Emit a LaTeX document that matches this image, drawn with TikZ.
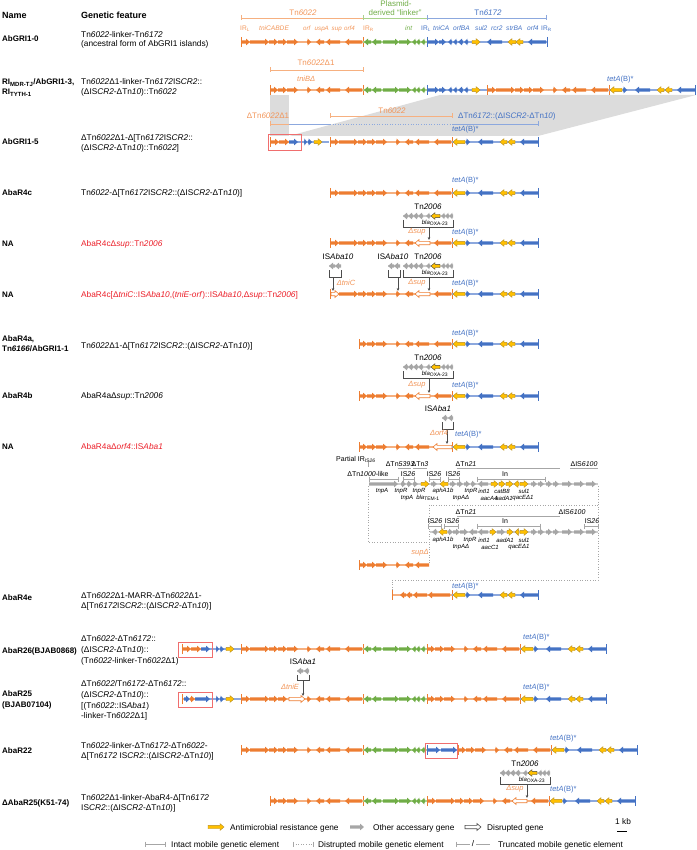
\documentclass[tikz,border=0pt]{standalone}
\usepackage{fontspec}
\setmainfont{Liberation Sans}
\usetikzlibrary{arrows.meta}
\definecolor{cO}{RGB}{237,125,49}
\definecolor{cOl}{RGB}{246,176,128}
\definecolor{cOt}{RGB}{242,150,90}
\definecolor{cG}{RGB}{112,173,71}
\definecolor{cGl}{RGB}{170,210,140}
\definecolor{cB}{RGB}{68,114,196}
\definecolor{cBl}{RGB}{140,168,222}
\definecolor{cY}{RGB}{255,192,0}
\definecolor{cYd}{RGB}{180,140,40}
\definecolor{cGr}{RGB}{166,166,166}
\definecolor{cGrl}{RGB}{205,205,205}
\definecolor{cRed}{RGB}{235,30,40}
\definecolor{cBox}{RGB}{240,110,110}
\definecolor{cSh}{RGB}{220,220,220}
\tikzset{
 gO/.style={fill=cO}, gG/.style={fill=cG}, gB/.style={fill=cB},
 gY/.style={fill=cY,draw=cYd,line width=0.4},
 gYb/.style={fill=cY,draw=black!75,line width=0.4},
 gR/.style={fill=cGr},
 gD/.style={fill=white,draw=cO,line width=0.6},
 bbO/.style={draw=cOl,line width=1.3}, bbG/.style={draw=cGl,line width=1.3},
 bbB/.style={draw=cBl,line width=1.3}, bbR/.style={draw=cGrl,line width=1.3},
 txt/.style={anchor=base west,inner sep=0,font=\fontsize{8.3}{9.6}\selectfont},
 nm/.style={anchor=base west,inner sep=0,font=\bfseries\fontsize{8}{9.6}\selectfont},
 hd/.style={anchor=base west,inner sep=0,font=\bfseries\fontsize{9}{10}\selectfont},
 el/.style={inner sep=0,font=\fontsize{8}{9}\selectfont},
 gl/.style={inner sep=0,font=\itshape\fontsize{6}{6.5}\selectfont},
 dl/.style={inner sep=0,font=\itshape\fontsize{7.5}{8}\selectfont,text=cOt},
 tl/.style={anchor=base west,inner sep=0,font=\fontsize{7.5}{8}\selectfont,text=cB},
 dt/.style={draw=cGr,line width=0.6,dotted},
 bk/.style={draw=black!70,line width=0.5},
}
\newcommand\gn[4]{%
 \pgfmathsetmacro\gd{(#2)-(#1)}%
 \pgfmathsetmacro\ghl{ifthenelse(abs(\gd)<4.5,0.85*(\gd),ifthenelse(\gd>0,4,-4))}%
 \path[#4] ({#1},{#3-1.7}) -- ({#2-(\ghl)},{#3-1.7}) -- ({#2-(\ghl)},{#3-3.4}) -- ({#2},{#3}) -- ({#2-(\ghl)},{#3+3.4}) -- ({#2-(\ghl)},{#3+1.7}) -- ({#1},{#3+1.7}) -- cycle;}
\newcommand\genes[4]{\foreach \s/\e in {#4}{\gn{#1+\s}{#1+\e}{#2}{#3}}}
\newcommand\bb[4]{\draw[#4] ({#1},{#3}) -- ({#2},{#3});}
\newcommand\irt[3]{\draw[#3,line width=0.7] ({#1},{#2-5}) -- ({#1},{#2+5});}
\newcommand\brk[4]{\draw[#4,line width=0.6] ({#1},{#3}) -- ({#2},{#3}) ({#1},{#3-2.5}) -- ({#1},{#3+2.5}) ({#2},{#3-2.5}) -- ({#2},{#3+2.5});}
\newcommand\TnA[2]{\bb{#1}{#1+122}{#2}{bbO}\genes{#1}{#2}{gO}{1/9,9/28,28/37,37/46,46/57,66/70,83/75,99/85,121/104}\irt{#1}{#2}{cO}\irt{#1+122}{#2}{cO}}
\newcommand\TnAsup[2]{\bb{#1}{#1+122}{#2}{bbO}\genes{#1}{#2}{gO}{1/9,9/28,28/37,37/46,46/57,66/70,83/75,121/104}\gn{#1+100}{#1+85}{#2}{gD}\irt{#1}{#2}{cO}\irt{#1+122}{#2}{cO}}
\newcommand\TnD[2]{\bb{#1}{#1+93}{#2}{bbO}\genes{#1}{#2}{gO}{1/8,8/17,17/28,37/41,54/46,70/56,92/75}\irt{#1}{#2}{cO}\irt{#1+93}{#2}{cO}}
\newcommand\TnDsup[2]{\bb{#1}{#1+93}{#2}{bbO}\genes{#1}{#2}{gO}{1/8,8/17,17/28,37/41,54/46,92/75}\gn{#1+71}{#1+56}{#2}{gD}\irt{#1}{#2}{cO}\irt{#1+93}{#2}{cO}}
\newcommand\TnDorf[2]{\bb{#1}{#1+93}{#2}{bbO}\genes{#1}{#2}{gO}{1/8,8/17,17/28,37/41,54/46,70/56}\gn{#1+93}{#1+74}{#2}{gD}\irt{#1}{#2}{cO}\irt{#1+93}{#2}{cO}}
\newcommand\Lnk[2]{\bb{#1}{#1+64}{#2}{bbG}\genes{#1}{#2}{gG}{8/1,18/9,20/36,36/48,53/49,57/53,62/58}}
\newcommand\TnB[2]{\bb{#1}{#1+120}{#2}{bbB}\genes{#1}{#2}{gB}{1/12,12/19,25/21,30/26,36/31,41/37,75/60,119/101}\genes{#1}{#2}{gY}{45/53,89/81,96/89}\irt{#1}{#2}{cB}\irt{#1+120}{#2}{cB}}
\newcommand\Tail[2]{\bb{#1}{#1+86}{#2}{bbB}\genes{#1}{#2}{gB}{14/18,41/26,86/68}\genes{#1}{#2}{gY}{13/1,55/48,63/56}\irt{#1+86}{#2}{cB}}
\newcommand\FragF[2]{\bb{#1}{#1+19}{#2}{bbO}\bb{#1+19}{#1+59}{#2}{bbB}\genes{#1}{#2}{gO}{1/9,9/19}\genes{#1}{#2}{gB}{19/28,34/37,38/42}\genes{#1}{#2}{gY}{44/52}\irt{#1}{#2}{cO}}
\newcommand\TnTwo[4]{\bb{#1}{#1+50}{#2}{bbR}%
 \genes{#1}{#2}{gR}{5/0,10/5,15/10,20/15,27/23,42/38,46/42,50/46}\genes{#1}{#2}{gYb}{37/28}%
 \node[el] at (#1+25,#2-9) {Tn\textit{2006}};%
 \draw[bk] (#1,#2+4) -- (#1,#2+11) -- (#1+50,#2+11) -- (#1+50,#2+4);%
 \node[gl] at (#1+32,#2+7) {bla\textsubscript{\upshape OXA-23}};%
 \draw[bk,-{Stealth[length=3pt,width=2.6pt]}] (#4,#2+11) -- (#4,#3-3);}
\begin{document}
\begin{tikzpicture}[x=1pt,y=-1pt]
\useasboundingbox (0,0) rectangle (696,850);
% shading
\fill[cSh] (270,95) -- (289,95) -- (289,136) -- (270,136) -- cycle;
\fill[cSh] (440,95) -- (696,95) -- (538,136) -- (289,136) -- cycle;
% header
\node[hd] at (2,19) {Name};
\node[hd] at (81,19) {Genetic feature};
% ---------- Row 1
\node[nm] at (2,42) {AbGRI1-0};
\node[txt] at (81,38) {Tn\textit{6022}-linker-Tn\textit{6172}};
\node[txt] at (81,47) {(ancestral form of AbGRI1 islands)};
\node[el,text=cOt] at (303,13) {Tn\textit{6022}};
\brk{241}{363}{18}{cOl}
\node[el,text=cG] at (396,4) {Plasmid-};
\node[el,text=cG] at (395,13) {derived “linker”};
\brk{363}{427}{18}{cGl}
\node[el,text=cB] at (488,13) {Tn\textit{6172}};
\brk{427}{546}{18}{cBl}
\begin{scope}[every node/.style={anchor=base west,inner sep=0,font=\fontsize{6.6}{7}\selectfont}]
\node[text=cOt] at (240,31) {IR\textsubscript{L}};
\node[text=cOt] at (259,31) {\itshape tniCABDE};
\node[text=cOt] at (363,31) {IR\textsubscript{R}};
\node[text=cG] at (405,31) {\itshape int};
\node[text=cB] at (421,31) {IR\textsubscript{L}};
\node[text=cB] at (433,31) {\itshape tniCA};
\node[text=cB] at (453,31) {\itshape orfBA};
\node[text=cB] at (475,31) {\itshape sul2};
\node[text=cB] at (491,31) {\itshape rcr2};
\node[text=cB] at (506,31) {\itshape strBA};
\node[text=cB] at (527,31) {\itshape orf4};
\node[text=cB] at (541,31) {IR\textsubscript{R}};
\end{scope}
\begin{scope}[every node/.style={anchor=base west,inner sep=0,font=\itshape\fontsize{6.2}{7}\selectfont,text=cOt}]
\node at (303,31) {orf};
\node at (314.5,31) {uspA};
\node at (331.5,31) {sup};
\node at (344,31) {orf4};
\end{scope}
\TnA{241}{42}\Lnk{363}{42}\TnB{427}{42}
% ---------- Row 2
\node[nm] at (2,85) {RI\textsubscript{MDR-TJ}/AbGRI1-3,};
\node[nm] at (2,95) {RI\textsubscript{TYTH-1}};
\node[txt] at (81,85) {Tn\textit{6022}Δ1-linker-Tn\textit{6172}IS\textit{CR2}::};
\node[txt] at (81,95) {(ΔIS\textit{CR2}-ΔTn\textit{10})::Tn\textit{6022}};
\node[el,text=cOt] at (316,63) {Tn\textit{6022}Δ1};
\brk{270}{363}{70}{cOl}
\node[dl,anchor=base west] at (297,82) {tniBΔ};
\TnD{270}{90}\Lnk{363}{90}
\bb{427}{487}{90}{bbB}\genes{427}{90}{gB}{1/12,12/19,25/21,30/26,36/31,41/37}\genes{427}{90}{gY}{45/53}\irt{427}{90}{cB}
\TnA{487}{90}\Tail{609}{90}
\node[tl] at (607,82) {\textit{tetA}(B)*};
% ---------- Row 3
\node[nm] at (2,145) {AbGRI1-5};
\node[txt] at (81,141) {ΔTn\textit{6022}Δ1-Δ[Tn\textit{6172}IS\textit{CR2}::};
\node[txt] at (81,151) {(ΔIS\textit{CR2}-ΔTn\textit{10})::Tn\textit{6022}]};
\node[el,text=cOt] at (268,116) {ΔTn\textit{6022}Δ1};
\draw[cOl,line width=0.6] (270,124) -- (289,124) (270,121.5) -- (270,126.5);
\node[el,text=cOt] at (392,111) {Tn\textit{6022}};
\brk{330}{452}{116}{cOl}
\node[el,text=cB,anchor=west] at (458,116) {ΔTn\textit{6172}::(ΔIS\textit{CR2}-ΔTn\textit{10})};
\draw[cBl,line width=0.6] (289,124) -- (330,124) (452,124) -- (538,124) (538,121.5) -- (538,126.5);
\draw[cBl,line width=0.6,dotted] (330,124) -- (452,124);
\FragF{270}{142}\TnA{330}{142}\Tail{452}{142}
\node[tl] at (452,132) {\textit{tetA}(B)*};
\draw[cBox,line width=0.7] (268,134) rectangle (301,150);
% ---------- Row 4
\node[nm] at (2,196) {AbaR4c};
\node[txt] at (81,196) {Tn\textit{6022}-Δ[Tn\textit{6172}IS\textit{CR2}::(ΔIS\textit{CR2}-ΔTn\textit{10})]};
\TnA{330}{193}\Tail{452}{193}
\node[tl] at (452,183) {\textit{tetA}(B)*};
% ---------- Row 5
\node[nm] at (2,246) {NA};
\node[txt,text=cRed] at (81,246) {AbaR4cΔ\textit{sup}::Tn\textit{2006}};
\TnAsup{330}{243}\Tail{452}{243}
\TnTwo{403}{216}{243}{429}
\node[dl] at (417,232) {Δsup};
\node[tl] at (452,234) {\textit{tetA}(B)*};
% ---------- Row 6
\node[nm] at (2,297) {NA};
\node[txt,text=cRed] at (81,297) {AbaR4c[Δ\textit{tniC}::IS\textit{Aba10},(\textit{tniE-orf})::IS\textit{Aba10},Δ\textit{sup}::Tn\textit{2006}]};
\bb{330}{452}{294}{bbO}
\genes{330}{294}{gO}{9/28,28/37,37/46,46/57,66/70,83/75,121/104}
\gn{331}{339}{294}{gD}\gn{430}{415}{294}{gD}
\irt{330}{294}{cO}\irt{452}{294}{cO}
\Tail{452}{294}
\TnTwo{403}{266}{294}{429}
\node[el] at (338,257) {IS\textit{Aba10}};
\bb{329}{341}{266}{bbR}\genes{329}{266}{gR}{6/0,12/6}
\draw[bk] (329,270) -- (329,277) -- (341,277) -- (341,270);
\draw[bk,-{Stealth[length=3pt,width=2.6pt]}] (333,277) -- (333,291);
\node[el] at (393,257) {IS\textit{Aba10}};
\bb{388}{400}{266}{bbR}\genes{388}{266}{gR}{6/0,12/6}
\draw[bk] (388,270) -- (388,277) -- (400,277) -- (400,270);
\draw[bk,-{Stealth[length=3pt,width=2.6pt]}] (398,277) -- (398,291);
\node[dl] at (346,283) {ΔtniC};
\node[dl] at (417,283) {Δsup};
\node[tl] at (452,285) {\textit{tetA}(B)*};
% ---------- Row 7
\node[nm] at (2,341) {AbaR4a,};
\node[nm] at (2,351) {Tn\textit{6166}/AbGRI1-1};
\node[txt] at (81,348) {Tn\textit{6022}Δ1-Δ[Tn\textit{6172}IS\textit{CR2}::(ΔIS\textit{CR2}-ΔTn\textit{10})]};
\TnD{359}{344}\Tail{452}{344}
\node[tl] at (452,335) {\textit{tetA}(B)*};
% ---------- Row 8
\node[nm] at (2,398) {AbaR4b};
\node[txt] at (81,398) {AbaR4aΔ\textit{sup}::Tn\textit{2006}};
\TnDsup{359}{396}\Tail{452}{396}
\TnTwo{403}{367}{396}{429}
\node[dl] at (417,385) {Δsup};
\node[tl] at (452,387) {\textit{tetA}(B)*};
% ---------- Row 9
\node[nm] at (2,449) {NA};
\node[txt,text=cRed] at (81,449) {AbaR4aΔ\textit{orf4}::IS\textit{Aba1}};
\TnDorf{359}{447}\Tail{452}{447}
\node[el] at (438,409) {IS\textit{Aba1}};
\bb{442}{453}{418}{bbR}\genes{442}{418}{gR}{5/0,11/6}
\draw[bk] (442,422) -- (442,429) -- (453,429) -- (453,422);
\draw[bk,-{Stealth[length=3pt,width=2.6pt]}] (447,429) -- (447,444);
\node[dl] at (439,433) {Δorf4};
\node[tl] at (455,436) {\textit{tetA}(B)*};
% ---------- Row 10 (complex)
\begin{scope}[every node/.style={inner sep=0,font=\fontsize{7}{7}\selectfont}]
\node[anchor=base west] at (336,461) {Partial IR\textsubscript{IS\textit{26}}};
\node at (400,464) {ΔTn\textit{5393}};
\node at (420,464) {ΔTn\textit{3}};
\node at (466,464) {ΔTn\textit{21}};
\node at (584,464) {ΔIS\textit{6100}};
\node at (368,474) {ΔTn\textit{1000}-like};
\node at (408,474) {IS\textit{26}};
\node at (434,474) {IS\textit{26}};
\node at (453,474) {IS\textit{26}};
\node at (505,474) {In};
\node at (466,512) {ΔTn\textit{21}};
\node at (572,512) {ΔIS\textit{6100}};
\node at (435,521) {IS\textit{26}};
\node at (452,521) {IS\textit{26}};
\node at (505,521) {In};
\node at (592,521) {IS\textit{26}};
\end{scope}
\draw[cGr,line width=0.5] (368,462) -- (368,467);
\draw[cGr,line width=0.5] (398,468) -- (411,468) (413,468) -- (427,468) (457,468) -- (560,468) (570,468) -- (598,468);
\brk{369}{398}{479}{cGr}\brk{403}{414}{479}{cGr}\brk{429}{440}{479}{cGr}\brk{448}{459}{479}{cGr}\brk{477}{545}{479}{cGr}
\bb{369}{598}{484}{bbR}
\genes{0}{484}{gR}{369/398,401/406,407/412,413/418,431/437,450/456,457/463,464/470,471/476,488/478,531/537,538/544,546/552,553/559,562/572,574/584,586/596}
\genes{0}{484}{gY}{421/429,448/440,491/498,499/505,506/513,519/514,520/528}
\begin{scope}[every node/.style={gl}]
\node at (382,491) {tnpA};\node at (401,491) {tnpR};\node at (419,491) {tnpR};
\node at (443,491) {aphA1b};\node at (471,491) {tnpR};\node at (484,491) {intI1};
\node at (502,491) {catB8};\node at (524,491) {sul1};
\node at (407,498) {tnpA};\node at (428,498) {bla\textsubscript{\upshape TEM-1}};\node at (461,498) {tnpAΔ};
\node at (489,498) {aacA4};\node at (504,498) {aadA1};\node at (523,498) {qacEΔ1};
\end{scope}
\draw[cGr,line width=0.5] (457,516) -- (560,516);
\brk{428}{441}{526}{cGr}\brk{444}{458}{526}{cGr}\brk{477}{540}{526}{cGr}\brk{584}{598}{526}{cGr}
\bb{430}{598}{532}{bbR}
\genes{0}{532}{gR}{437/432,448/453,453/460,460/468,477/469,488/478,497/505,531/537,538/544,546/552,553/559,562/572,574/584,586/596}
\genes{0}{532}{gY}{447/439,490/496,507/513,519/515,520/528}
\begin{scope}[every node/.style={gl}]
\node at (443,540) {aphA1b};\node at (470,540) {tnpR};\node at (484,540) {intI1};
\node at (505,540) {aadA1};\node at (524,540) {sul1};
\node at (461,547) {tnpAΔ};\node at (490,547) {aacC1};\node at (519,547) {qacEΔ1};
\end{scope}
\draw[dt] (368,486) -- (368,542) -- (429,542);
\draw[dt] (429,563) -- (429,505) -- (598,505);
\draw[dt] (598,486) -- (598,580) -- (392,580) -- (392,590);
\node[dl] at (420,553) {supΔ};
\bb{359}{429}{565}{bbO}\genes{359}{565}{gO}{1/8,8/17,17/28,37/41,54/46,70/56}\irt{359}{565}{cO}
% ---------- Row AbaR4e
\node[nm] at (2,600) {AbaR4e};
\node[txt] at (81,598) {ΔTn\textit{6022}Δ1-MARR-ΔTn\textit{6022}Δ1-};
\node[txt] at (81,608) {Δ[Tn\textit{6172}IS\textit{CR2}::(ΔIS\textit{CR2}-ΔTn\textit{10})]};
\bb{392}{452}{595}{bbO}\genes{392}{595}{gO}{14/8,20/14,35/21,58/36}\irt{392}{595}{cO}\irt{452}{595}{cO}
\Tail{452}{595}
\node[tl] at (452,588) {\textit{tetA}(B)*};
% ---------- AbaR26
\node[nm] at (2,653) {AbaR26(BJAB0868)};
\node[txt] at (81,641) {ΔTn\textit{6022}-ΔTn\textit{6172}::};
\node[txt] at (81,652) {(ΔIS\textit{CR2}-ΔTn\textit{10})::};
\node[txt] at (81,663) {(Tn\textit{6022}-linker-Tn\textit{6022}Δ1)};
\FragF{182}{649}\TnA{241}{649}\Lnk{363}{649}\TnD{427}{649}\Tail{520}{649}
\node[tl] at (523,639) {\textit{tetA}(B)*};
\draw[cBox,line width=0.7] (178,642) rectangle (212,657);
% ---------- AbaR25
\node[nm] at (2,696) {AbaR25};
\node[nm] at (2,707) {(BJAB07104)};
\node[txt] at (81,686) {ΔTn\textit{6022}/Tn\textit{6172}-ΔTn\textit{6172}::};
\node[txt] at (81,697) {(ΔIS\textit{CR2}-ΔTn\textit{10})::};
\node[txt] at (81,708) {[(Tn\textit{6022}::IS\textit{Aba1})};
\node[txt] at (81,718) {-linker-Tn\textit{6022}Δ1]};
\bb{182}{195}{699}{bbO}\bb{195}{241}{699}{bbB}
\genes{182}{699}{gB}{2/8,13/28,34/37,38/42}\genes{182}{699}{gO}{8/13}\genes{182}{699}{gY}{44/52}\irt{182}{699}{cO}
\bb{241}{363}{699}{bbO}\genes{241}{699}{gO}{1/9,9/28,28/37,37/46,66/70,83/75,99/85,121/104}\gn{289}{305}{699}{gD}\irt{241}{699}{cO}\irt{363}{699}{cO}
\Lnk{363}{699}\TnD{427}{699}\Tail{520}{699}
\node[el] at (303,662) {IS\textit{Aba1}};
\bb{297}{309}{671}{bbR}\genes{297}{671}{gR}{6/0,12/7}
\draw[bk] (297,675) -- (297,680) -- (309,680) -- (309,675);
\draw[bk,-{Stealth[length=3pt,width=2.6pt]}] (303,680) -- (303,696);
\node[dl] at (290,687) {ΔtniE};
\node[tl] at (523,689) {\textit{tetA}(B)*};
\draw[cBox,line width=0.7] (178,692) rectangle (212,707);
% ---------- AbaR22
\node[nm] at (2,753) {AbaR22};
\node[txt] at (81,748) {Tn\textit{6022}-linker-ΔTn\textit{6172}-ΔTn\textit{6022}-};
\node[txt] at (81,758) {Δ[Tn\textit{6172} IS\textit{CR2}::(ΔIS\textit{CR2}-ΔTn\textit{10})]};
\TnA{241}{750}\Lnk{363}{750}
\bb{427}{458}{750}{bbB}\genes{427}{750}{gB}{1/13,14/30}\irt{427}{750}{cB}
\TnD{458}{750}\Tail{551}{750}
\node[tl] at (550,740) {\textit{tetA}(B)*};
\draw[cBox,line width=0.7] (425,743) rectangle (457,758);
% ---------- K51-74
\node[nm] at (2,805) {ΔAbaR25(K51-74)};
\node[txt] at (81,800) {Tn\textit{6022}Δ1-linker-AbaR4-Δ[Tn\textit{6172}};
\node[txt] at (81,810) {IS\textit{CR2}::(ΔIS\textit{CR2}-ΔTn\textit{10})]};
\TnD{270}{801}\Lnk{363}{801}\TnAsup{427}{801}\Tail{549}{801}
\TnTwo{500}{773}{801}{527}
\node[dl] at (515,789) {Δsup};
\node[tl] at (550,791) {\textit{tetA}(B)*};
% ---------- Legend
\gn{208}{224}{827}{gY}
\node[txt] at (230,830) {Antimicrobial resistance gene};
\gn{350}{364}{827}{gR}
\node[txt] at (373,830) {Other accessary gene};
\gn{465}{481}{827}{fill=white,draw=black!70,line width=0.6}
\node[txt] at (487,830) {Disrupted gene};
\draw[cGr,line width=0.6] (145,844) -- (165,844) (145,841.5) -- (145,846.5) (165,841.5) -- (165,846.5);
\node[txt] at (171,847) {Intact mobile genetic element};
\draw[cGr,line width=0.6,dotted] (293,844) -- (313,844);
\draw[cGr,line width=0.6] (293,841.5) -- (293,846.5) (313,841.5) -- (313,846.5);
\node[txt] at (318,847) {Distrupted mobile genetic element};
\draw[cGr,line width=0.6] (456,844) -- (470,844) (476,844) -- (490,844) (456,841.5) -- (456,846.5);
\node[txt,anchor=center] at (473,844) {/};
\node[txt] at (498,847) {Truncated mobile genetic element};
\node[txt] at (615,824) {1 kb};
\draw[line width=1] (617,831) -- (627,831);
\end{tikzpicture}
\end{document}
